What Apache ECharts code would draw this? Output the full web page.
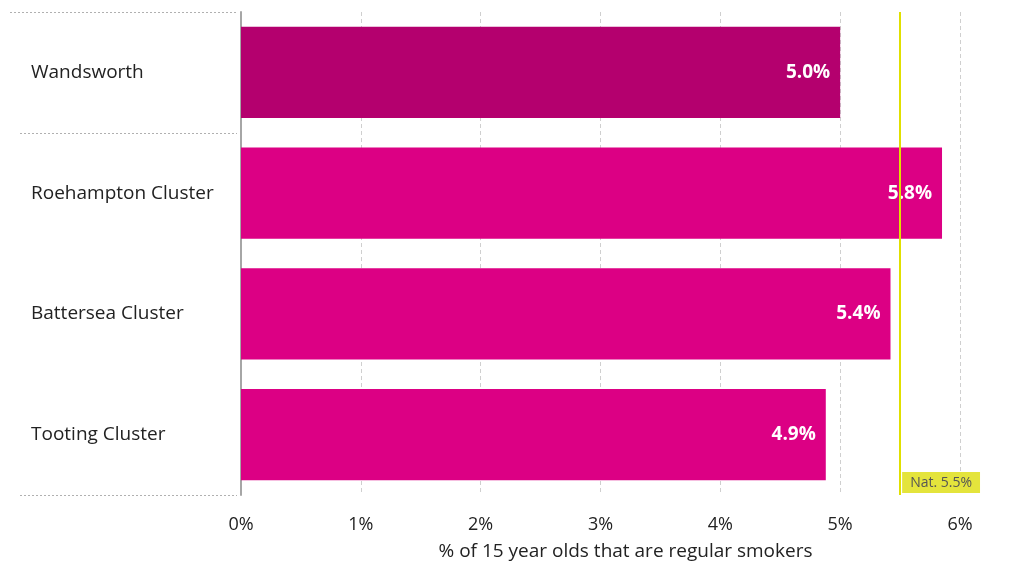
<!DOCTYPE html>
<html>
<head>
<meta charset="utf-8">
<script src="https://cdn.jsdelivr.net/npm/echarts@6/dist/echarts.min.js"></script>
<style>
html,body{margin:0;padding:0;background:#fff;}
#chart{width:1030px;height:562px;}
</style>
</head>
<body>
<div id="chart"></div>
<script>
const categories = ["Wandsworth", "Roehampton Cluster", "Battersea Cluster", "Tooting Cluster"];
const values = [5.0, 5.85, 5.42, 4.88];
const valueLabels = ["5.0%", "5.8%", "5.4%", "4.9%"];
const barColors = ["#B4006E", "#DC0084", "#DC0084", "#DC0084"];
const nationalValue = 5.5;
const nationalLabel = "Nat. 5.5%";
const xTicks = [0, 1, 2, 3, 4, 5, 6];
const xAxisName = "% of 15 year olds that are regular smokers";

const FONT = "'Open Sans', 'Noto Sans', sans-serif";
const chart = echarts.init(document.getElementById('chart'), null, {renderer: 'canvas'});

const option = {
  animation: false,
  backgroundColor: '#ffffff',
  textStyle: {fontFamily: FONT},
  grid: {left: 241, right: 70, top: 12, bottom: 67, containLabel: false, outerBoundsMode: 'none'},
  xAxis: {
    type: 'value',
    min: xTicks[0], max: xTicks[xTicks.length - 1], interval: 1,
    axisLine: {show: false},
    axisTick: {show: false},
    axisLabel: {formatter: v => v + '%', color: '#222', fontSize: 18, fontFamily: FONT, margin: 21},
    splitLine: {show: true, lineStyle: {color: '#cfcfcf', type: [4, 3], width: 1}},
    name: xAxisName,
    nameLocation: 'middle',
    nameGap: 47,
    nameTextStyle: {color: '#222', fontSize: 19, fontFamily: FONT, padding: [0, 0, 0, 50]}
  },
  yAxis: {
    type: 'category',
    data: categories,
    inverse: true,
    axisLine: {show: true, lineStyle: {color: '#a6a6a6', width: 2}},
    axisTick: {show: false},
    axisLabel: {align: 'left', margin: 210, color: '#222', fontSize: 19, fontFamily: FONT},
    splitLine: {show: false}
  },
  series: [{
    type: 'bar',
    data: values.map((v, i) => ({value: v, itemStyle: {color: barColors[i]}})),
    barCategoryGap: '24.5%',
    label: {
      show: true, position: 'insideRight', distance: 10,
      color: '#fff', fontWeight: 'bold', fontSize: 19, fontFamily: FONT,
      formatter: p => valueLabels[p.dataIndex]
    },
    markLine: {
      silent: true, symbol: 'none',
      lineStyle: {color: '#E0E000', width: 2, type: 'solid'},
      label: {
        show: true, position: 'end', distance: 0, offset: [41, -23],
        formatter: nationalLabel,
        color: '#555', fontSize: 14, fontFamily: FONT,
        backgroundColor: '#E4E43C', padding: [4, 8, 3, 8]
      },
      data: [{xAxis: nationalValue}]
    }
  }]
};
chart.setOption(option);

// dotted separators in the label area at band boundaries (top, after first, bottom)
function drawSeparators() {
  const c0 = chart.convertToPixel({yAxisIndex: 0}, categories[0]);
  const c1 = chart.convertToPixel({yAxisIndex: 0}, categories[1]);
  const cl = chart.convertToPixel({yAxisIndex: 0}, categories[categories.length - 1]);
  const band = c1 - c0;
  const ys = [c0 - band / 2, c0 + band / 2, cl + band / 2];
  const starts = [10, 20, 20];
  const axisX = chart.convertToPixel({xAxisIndex: 0}, 0);
  chart.setOption({
    graphic: ys.map((y, i) => ({
      type: 'line', silent: true,
      shape: {x1: starts[i], y1: Math.round(y) + 0.5, x2: axisX - 4, y2: Math.round(y) + 0.5},
      style: {stroke: '#b0b0b0', lineWidth: 1, lineDash: [2, 2]}
    }))
  });
}
drawSeparators();
</script>
</body>
</html>
